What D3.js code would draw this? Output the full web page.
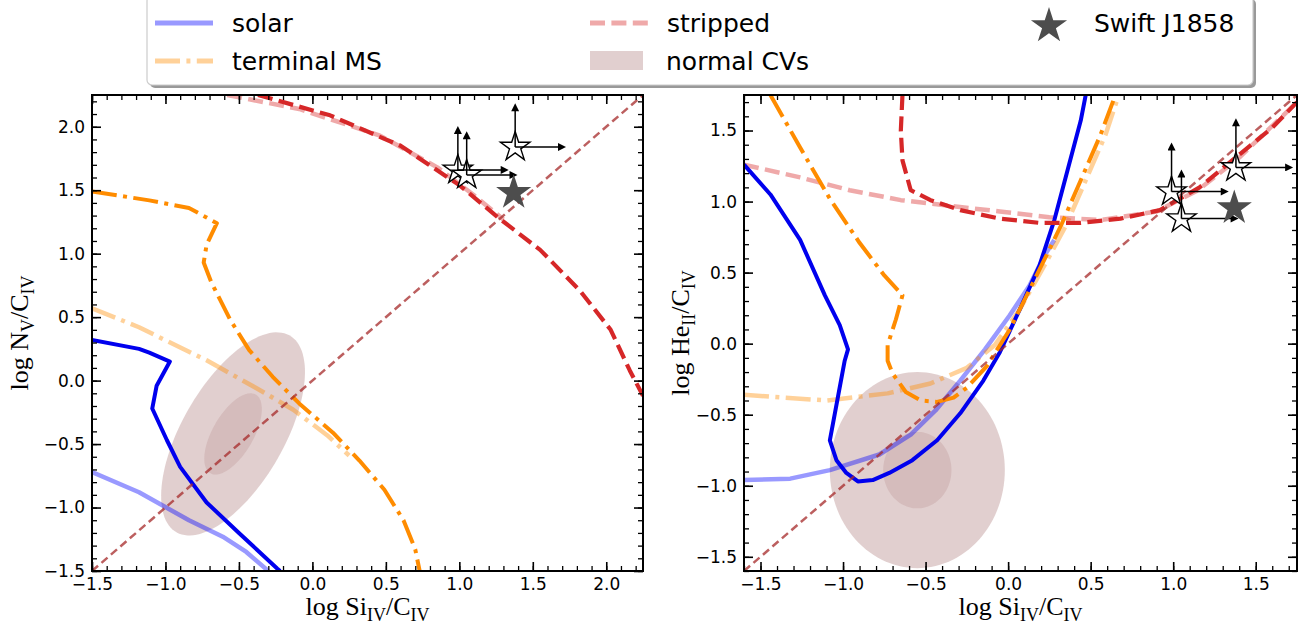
<!DOCTYPE html>
<html>
<head>
<meta charset="utf-8">
<script src="https://cdn.jsdelivr.net/npm/d3@7"></script>
<style>
  body { margin: 0; background: #fff; }
  svg { display: block; font-family: "DejaVu Sans", sans-serif; }
</style>
</head>
<body>
<svg id="chart" width="1315" height="633"></svg>
<script>
// ---- values (log ratios) ----
const tickLabelsL = [-1.5, -1.0, -0.5, 0.0, 0.5, 1.0, 1.5, 2.0];
const tickLabelsR = [-1.5, -1.0, -0.5, 0.0, 0.5, 1.0, 1.5];

// left panel: log NV/CIV vs log SiIV/CIV
const solarLightL = [[-1.5,-0.72],[-1.18,-0.88],[-0.84,-1.10],[-0.61,-1.23],[-0.45,-1.35],[-0.30,-1.5]];
const solarDarkL = [[-1.5,0.32],[-1.18,0.25],[-1.11,0.22],[-0.97,0.15],[-1.06,-0.04],[-1.09,-0.22],[-0.99,-0.47],
  [-0.90,-0.68],[-0.72,-0.96],[-0.50,-1.20],[-0.24,-1.48],[-0.22,-1.5]];
const tmsLightL = [[-1.5,0.57],[-1.18,0.42],[-0.72,0.16],[-0.38,-0.06],[-0.13,-0.23],[0.10,-0.43],[0.25,-0.59]];
const tmsDarkL = [[-1.5,1.49],[-1.11,1.42],[-0.84,1.36],[-0.65,1.24],[-0.72,1.07],[-0.74,0.93],[-0.69,0.78],
  [-0.56,0.48],[-0.43,0.24],[-0.27,0.03],[-0.09,-0.18],[0.14,-0.41],[0.32,-0.63],[0.49,-0.86],[0.62,-1.10],
  [0.70,-1.33],[0.73,-1.5]];
const strippedLightL = [[-0.58,2.25],[-0.09,2.14],[0.46,1.93],[0.85,1.68],[1.10,1.46],[1.30,1.27]];
const strippedDarkL = [[-0.37,2.25],[0.12,2.09],[0.60,1.85],[1.00,1.54],[1.28,1.27],[1.55,1.03],[1.82,0.71],
  [2.03,0.40],[2.16,0.08],[2.25,-0.12]];
const diagonalL = [[-1.5,-1.5],[2.25,2.25]];

// right panel: log HeII/CIV vs log SiIV/CIV
const solarLightR = [[-1.6,-0.96],[-1.32,-0.95],[-1.08,-0.89],[-0.78,-0.78],[-0.59,-0.64],[-0.44,-0.47],
  [-0.29,-0.26],[-0.14,-0.04],[0.01,0.20],[0.13,0.41],[0.22,0.62],[0.28,0.73]];
const solarDarkR = [[-1.6,1.26],[-1.44,1.05],[-1.26,0.73],[-1.11,0.34],[-1.02,0.13],[-0.97,-0.04],[-0.99,-0.12],
  [-1.08,-0.68],[-1.04,-0.82],[-0.98,-0.91],[-0.91,-0.97],[-0.82,-0.96],[-0.72,-0.91],[-0.58,-0.82],
  [-0.43,-0.68],[-0.29,-0.49],[-0.15,-0.26],[-0.05,-0.06],[0.07,0.24],[0.19,0.55],[0.28,0.87],[0.36,1.22],
  [0.44,1.57],[0.47,1.75]];
const tmsLightR = [[-1.6,-0.36],[-1.10,-0.40],[-0.73,-0.35],[-0.47,-0.28],[-0.25,-0.17],[-0.08,-0.01],
  [0.07,0.24],[0.22,0.55],[0.35,0.83],[0.47,1.15],[0.59,1.47],[0.67,1.75]];
const tmsDarkR = [[-1.44,1.75],[-1.26,1.38],[-1.08,1.02],[-0.90,0.71],[-0.75,0.48],[-0.64,0.34],[-0.68,0.17],
  [-0.73,-0.01],[-0.73,-0.12],[-0.70,-0.21],[-0.62,-0.34],[-0.53,-0.40],[-0.43,-0.41],[-0.33,-0.38],
  [-0.25,-0.31],[-0.13,-0.16],[0.01,0.10],[0.16,0.45],[0.32,0.83],[0.44,1.15],[0.56,1.47],[0.65,1.75]];
const strippedLightR = [[-1.6,1.26],[-1.26,1.17],[-0.96,1.08],[-0.65,1.01],[-0.35,0.97],[-0.05,0.93],
  [0.25,0.89],[0.56,0.87],[0.90,0.93],[1.15,1.08],[1.40,1.31],[1.75,1.70]];
const strippedDarkR = [[-0.64,1.75],[-0.65,1.50],[-0.64,1.29],[-0.59,1.08],[-0.47,1.01],[-0.29,0.94],
  [-0.05,0.88],[0.19,0.85],[0.44,0.85],[0.68,0.88],[0.92,0.94],[1.16,1.10],[1.41,1.34],[1.60,1.52],[1.75,1.70]];
const diagonalR = [[-1.6,-1.6],[1.75,1.75]];

// normal CV regions (centre, semi-axes, angle in degrees, inner fraction)
const cvEllipseL = { cx: -0.54, cy: -0.42, a: 0.867, b: 0.358, angle: 65, inner: 0.4 };
const cvEllipseR = { cx: -0.55, cy: -0.89, a: 0.69, b: 0.53, angle: 90, inner: 0.39 };

// Swift J1858 and lower limits
const swiftSi = 1.37, swiftNV = 1.48, swiftHe = 0.955;
const limitSi = [0.99, 1.05, 1.38];
const limitNV = [1.66, 1.62, 1.84];
const limitHe = [1.07, 0.88, 1.24];
const arrowLen = 0.35;

// ---- styles ----
const dashLine = "15,6.4", dashDot = "25,6.4,4,6.4";
const style = {
  solarLight: { stroke: "#0000ff", op: 0.4, w: 4.5, dash: null },
  tmsLight: { stroke: "#ff8c00", op: 0.4, w: 4.5, dash: dashDot },
  strippedLight: { stroke: "#d62728", op: 0.4, w: 4.5, dash: dashLine },
  solarDark: { stroke: "#0000ee", op: 1, w: 4, dash: null },
  tmsDark: { stroke: "#ff8c00", op: 1, w: 4, dash: dashDot },
  strippedDark: { stroke: "#d62728", op: 1, w: 4.2, dash: dashLine },
  diag: { stroke: "#a52a2a", op: 0.75, w: 2.5, dash: "8,4.5" }
};
const cvFill = "rgb(205,175,175)", cvOpacity = 0.6;
const starFill = "#4d4d4d";
const fmt = d3.format(".1f");

const svg = d3.select("#chart");

svg.append("defs").append("marker")
  .attr("id", "arrowhead")
  .attr("viewBox", "0 0 10 10")
  .attr("refX", 2).attr("refY", 5)
  .attr("markerWidth", 9).attr("markerHeight", 8)
  .attr("markerUnits", "userSpaceOnUse")
  .attr("orient", "auto")
  .append("path").attr("d", "M0,0 L10,5 L0,10 Z").attr("fill", "#000");

const panels = [
  {
    id: "L",
    x: d3.scaleLinear([-1.5, 2.25], [92, 643]),
    y: d3.scaleLinear([-1.5, 2.25], [571, 95]),
    ticks: tickLabelsL,
    minor: d3.range(-15, 23).map(d => d / 10),
    curves: [
      [solarLightL, style.solarLight], [tmsLightL, style.tmsLight], [strippedLightL, style.strippedLight],
      [solarDarkL, style.solarDark], [tmsDarkL, style.tmsDark], [strippedDarkL, style.strippedDark],
      [diagonalL, style.diag]
    ],
    cv: cvEllipseL,
    limitsY: limitNV,
    swiftY: swiftNV,
    ylab: ["N", "V"],
    ylabX: 28
  },
  {
    id: "R",
    x: d3.scaleLinear([-1.6, 1.75], [744, 1297]),
    y: d3.scaleLinear([-1.6, 1.75], [571, 95]),
    ticks: tickLabelsR,
    minor: d3.range(-16, 18).map(d => d / 10),
    curves: [
      [solarLightR, style.solarLight], [tmsLightR, style.tmsLight], [strippedLightR, style.strippedLight],
      [solarDarkR, style.solarDark], [tmsDarkR, style.tmsDark], [strippedDarkR, style.strippedDark],
      [diagonalR, style.diag]
    ],
    cv: cvEllipseR,
    limitsY: limitHe,
    swiftY: swiftHe,
    ylab: ["He", "II"],
    ylabX: 689
  }
];

function ellipsePoints(e, k) {
  const phi = e.angle * Math.PI / 180;
  return d3.range(0, 121).map(i => {
    const t = i / 120 * 2 * Math.PI;
    const u = e.a * k * Math.cos(t), v = e.b * k * Math.sin(t);
    return [e.cx + u * Math.cos(phi) - v * Math.sin(phi), e.cy + u * Math.sin(phi) + v * Math.cos(phi)];
  });
}

function starPath(r) {
  return d3.symbol(d3.symbolStar, r * r / 0.8908130915292852)();
}

panels.forEach(p => {
  const [x0, x1] = p.x.range(), [y0, y1] = p.y.range();
  const g = svg.append("g");

  g.append("clipPath").attr("id", "clip" + p.id)
    .append("rect").attr("x", x0).attr("y", y1).attr("width", x1 - x0).attr("height", y0 - y1);

  const plot = g.append("g").attr("clip-path", `url(#clip${p.id})`);
  const line = d3.line().x(d => p.x(d[0])).y(d => p.y(d[1]));

  // normal CV regions
  [1, p.cv.inner].forEach(k => {
    plot.append("path")
      .attr("d", line(ellipsePoints(p.cv, k)) + "Z")
      .attr("fill", cvFill)
      .attr("fill-opacity", cvOpacity);
  });

  // model tracks
  p.curves.forEach(([data, s]) => {
    plot.append("path")
      .attr("d", line(data))
      .attr("fill", "none")
      .attr("stroke", s.stroke)
      .attr("stroke-opacity", s.op)
      .attr("stroke-width", s.w)
      .attr("stroke-dasharray", s.dash)
      .attr("stroke-linejoin", "round");
  });

  // lower limits: open stars with arrows
  limitSi.forEach((sx, i) => {
    const cx = p.x(sx), cy = p.y(p.limitsY[i]);
    g.append("path")
      .attr("d", starPath(15.5))
      .attr("transform", `translate(${cx},${cy})`)
      .attr("fill", "#fff").attr("stroke", "#000").attr("stroke-width", 1.4);
  });
  limitSi.forEach((sx, i) => {
    const cx = p.x(sx), cy = p.y(p.limitsY[i]);
    g.append("line")
      .attr("x1", cx).attr("y1", cy).attr("x2", cx).attr("y2", p.y(p.limitsY[i] + arrowLen) + 7)
      .attr("stroke", "#000").attr("stroke-width", 1.5).attr("marker-end", "url(#arrowhead)");
    g.append("line")
      .attr("x1", cx).attr("y1", cy).attr("x2", p.x(sx + arrowLen) - 7).attr("y2", cy)
      .attr("stroke", "#000").attr("stroke-width", 1.5).attr("marker-end", "url(#arrowhead)");
  });

  // Swift J1858
  g.append("path")
    .attr("d", starPath(18.5))
    .attr("transform", `translate(${p.x(swiftSi)},${p.y(p.swiftY)})`)
    .attr("fill", starFill);

  // ticks (inward, all four sides)
  const sides = [
    [d3.axisBottom(p.x), `translate(0,${y0})`, true],
    [d3.axisTop(p.x), `translate(0,${y1})`, false],
    [d3.axisLeft(p.y), `translate(${x0},0)`, true],
    [d3.axisRight(p.y), `translate(${x1},0)`, false]
  ];
  sides.forEach(([axis, tr, labels]) => {
    const minorG = g.append("g").attr("transform", tr)
      .call(axis.tickValues(p.minor).tickSize(-5).tickFormat(""));
    minorG.select(".domain").remove();
    minorG.selectAll("line").attr("stroke-width", 1.3);
    const majorG = g.append("g").attr("transform", tr)
      .call(axis.tickValues(p.ticks).tickSize(-9).tickPadding(7).tickFormat(labels ? fmt : ""));
    majorG.select(".domain").remove();
    majorG.selectAll("line").attr("stroke-width", 1.6);
    majorG.selectAll("text").attr("font-size", 17).attr("font-family", "DejaVu Sans").attr("fill", "#000");
  });

  // frame
  g.append("rect")
    .attr("x", x0).attr("y", y1).attr("width", x1 - x0).attr("height", y0 - y1)
    .attr("fill", "none").attr("stroke", "#000").attr("stroke-width", 2);

  // axis labels
  const xl = g.append("text")
    .attr("x", (x0 + x1) / 2).attr("y", 615)
    .attr("text-anchor", "middle")
    .attr("font-family", "Liberation Serif").attr("font-size", 26);
  xl.append("tspan").text("log Si");
  xl.append("tspan").attr("dy", 6).attr("font-size", 18).text("IV");
  xl.append("tspan").attr("dy", -6).text("/C");
  xl.append("tspan").attr("dy", 6).attr("font-size", 18).text("IV");

  const yl = g.append("text")
    .attr("transform", `translate(${p.ylabX},${(y0 + y1) / 2}) rotate(-90)`)
    .attr("text-anchor", "middle")
    .attr("font-family", "Liberation Serif").attr("font-size", 26);
  yl.append("tspan").text("log " + p.ylab[0]);
  yl.append("tspan").attr("dy", 6).attr("font-size", 18).text(p.ylab[1]);
  yl.append("tspan").attr("dy", -6).text("/C");
  yl.append("tspan").attr("dy", 6).attr("font-size", 18).text("IV");
});

// ---- legend ----
const leg = svg.append("g");
leg.append("rect").attr("x", 150).attr("y", -1).attr("width", 1106).attr("height", 89)
  .attr("rx", 5).attr("fill", "#000").attr("fill-opacity", 0.4);
leg.append("rect").attr("x", 147).attr("y", -4).attr("width", 1106).attr("height", 89)
  .attr("rx", 5).attr("fill", "#fff").attr("stroke", "#cccccc").attr("stroke-width", 1.2);

const legItems = [
  { x: 155, y: 23, label: "solar", s: style.solarLight },
  { x: 155, y: 61, label: "terminal MS", s: style.tmsLight },
  { x: 590, y: 23, label: "stripped", s: style.strippedLight },
  { x: 590, y: 61, label: "normal CVs", patch: true }
];
legItems.forEach(d => {
  if (d.patch) {
    leg.append("rect").attr("x", d.x).attr("y", d.y - 10).attr("width", 53).attr("height", 19)
      .attr("fill", cvFill).attr("fill-opacity", cvOpacity);
  } else {
    leg.append("line").attr("x1", d.x).attr("x2", d.x + 58).attr("y1", d.y).attr("y2", d.y)
      .attr("stroke", d.s.stroke).attr("stroke-opacity", d.s.op).attr("stroke-width", 5)
      .attr("stroke-dasharray", d.s.dash);
  }
  leg.append("text").attr("x", d.x + (d.patch ? 76 : 77)).attr("y", d.y + 9)
    .attr("font-size", 25).attr("fill", "#000").text(d.label);
});
leg.append("path").attr("d", starPath(19)).attr("transform", "translate(1049,26)").attr("fill", starFill);
leg.append("text").attr("x", 1094).attr("y", 32).attr("font-size", 25).attr("fill", "#000").text("Swift J1858");
</script>
</body>
</html>
